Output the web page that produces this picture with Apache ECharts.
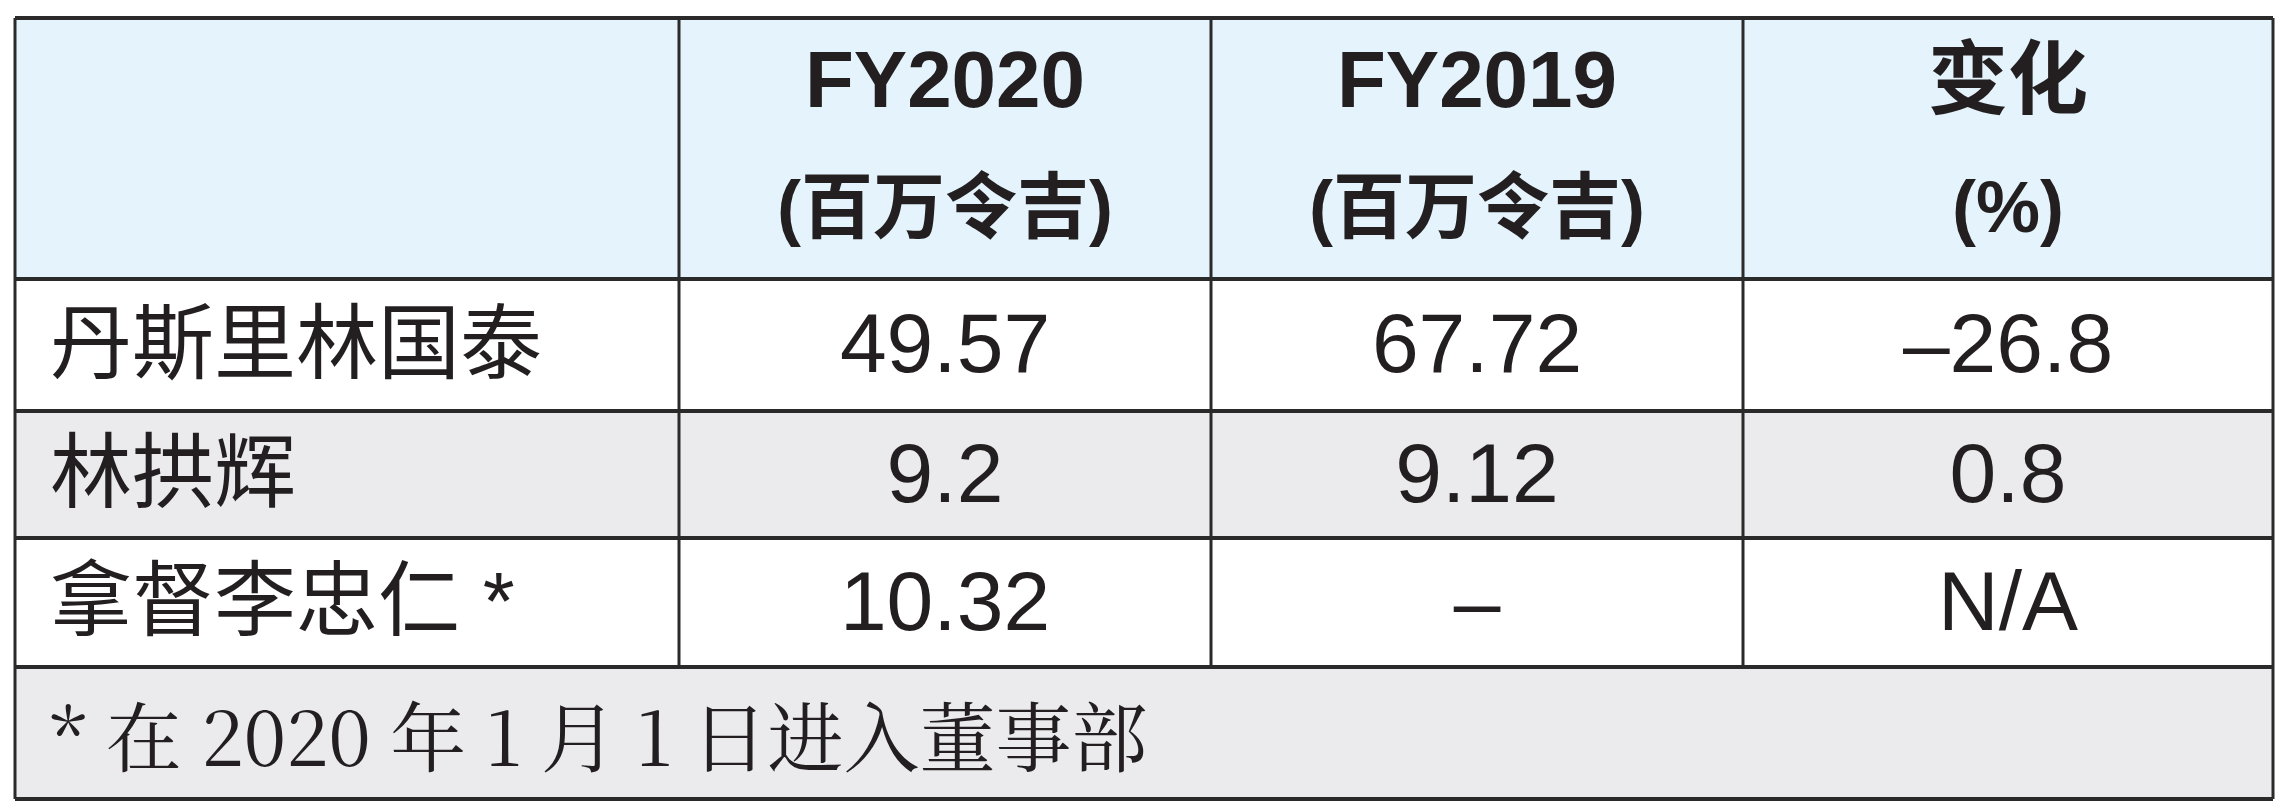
<!DOCTYPE html>
<html><head><meta charset="utf-8">
<script src="https://cdn.jsdelivr.net/npm/echarts@6/dist/echarts.min.js"></script>
<style>html,body{margin:0;padding:0;background:#fff}#c{width:2285px;height:811px}</style>
</head><body><div id="c"></div>
<script>
const headers = [['', ''], ['FY2020', '(百万令吉)'], ['FY2019', '(百万令吉)'], ['变化', '(%)']];
const names = ['丹斯里林国泰', '林拱辉', '拿督李忠仁 *'];
const fy2020 = ['49.57', '9.2', '10.32'];
const fy2019 = ['67.72', '9.12', '–'];
const change = ['–26.8', '0.8', 'N/A'];
const footnote = '* 在 2020 年 1 月 1 日进入董事部';

const colX = [15, 679, 1211, 1743, 2273];
const rowY = [18, 279, 411, 538, 667, 799];
const rowBg = ['#e5f4fc', '#ffffff', '#ebebed', '#ffffff', '#ebebed'];
const sans = '"Liberation Sans", "Noto Sans CJK SC", sans-serif';
const g = [];
for (let r = 0; r < 5; r++) {
  g.push({type:'rect', shape:{x:colX[0], y:rowY[r], width:colX[4]-colX[0], height:rowY[r+1]-rowY[r]}, style:{fill:rowBg[r]}});
}
for (let r = 0; r < rowY.length; r++) {
  g.push({type:'line', shape:{x1:colX[0], y1:rowY[r], x2:colX[4], y2:rowY[r]}, style:{stroke:'#2a2a2a', lineWidth:4}, z:10});
}
colX.forEach((x, i) => {
  const y2 = (i === 0 || i === 4) ? rowY[5] : rowY[4];
  g.push({type:'line', shape:{x1:x, y1:rowY[0], x2:x, y2:y2}, style:{stroke:'#2a2a2a', lineWidth:3}, z:10});
});
for (let c = 1; c < 4; c++) {
  const cx = (colX[c] + colX[c+1]) / 2;
  g.push({type:'text', x:cx, y:85, style:{text:headers[c][0], font:'bold 80px '+sans, fill:'#231f20', textAlign:'center', textVerticalAlign:'middle'}, z:20});
  g.push({type:'text', x:cx, y:212, style:{text:headers[c][1], font:'bold 72px '+sans, fill:'#231f20', textAlign:'center', textVerticalAlign:'middle'}, z:20});
}
const cols = [fy2020, fy2019, change];
for (let r = 0; r < 3; r++) {
  const cy = (rowY[r+1] + rowY[r+2]) / 2 + 4;
  g.push({type:'text', x:50, y:cy, style:{text:names[r], font:'82px '+sans, fill:'#231f20', textAlign:'left', textVerticalAlign:'middle'}, z:20});
  cols.forEach((arr, c) => {
    g.push({type:'text', x:(colX[c+1]+colX[c+2])/2, y:cy, style:{text:arr[r], font:'84px '+sans, fill:'#231f20', textAlign:'center', textVerticalAlign:'middle'}, z:20});
  });
}
g.push({type:'text', x:50, y:(rowY[4]+rowY[5])/2 + 4, style:{text:footnote, font:'76px "Noto Serif CJK SC", "DejaVu Serif", "Noto Sans CJK SC", serif', fill:'#231f20', textAlign:'left', textVerticalAlign:'middle'}, z:20});

const chart = echarts.init(document.getElementById('c'));
chart.setOption({animation:false, graphic:g});
</script></body></html>
